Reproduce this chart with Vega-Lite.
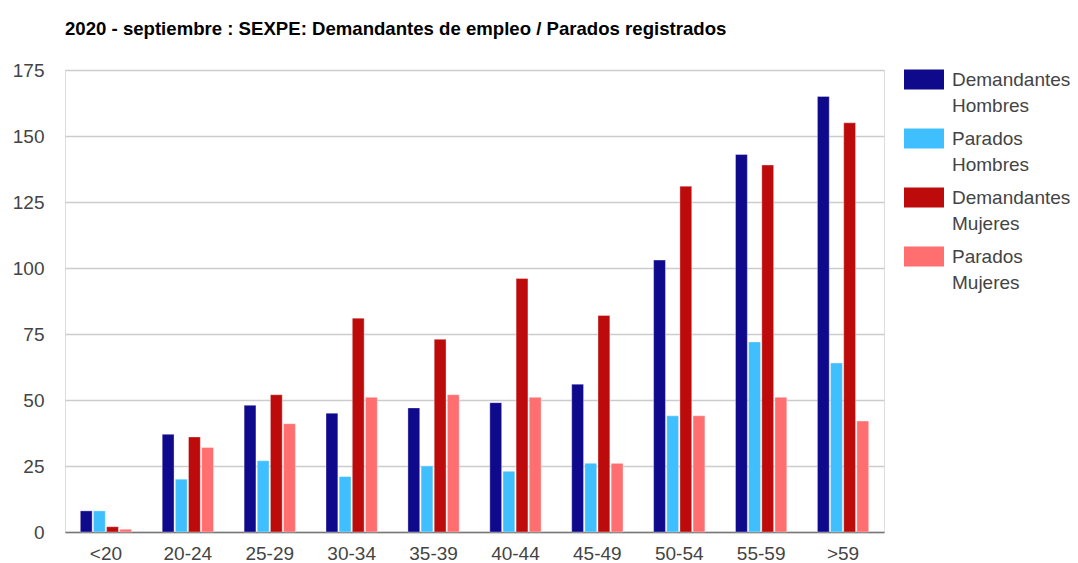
{
  "$schema": "https://vega.github.io/schema/vega-lite/v6.json",
  "width": 819,
  "height": 462,
  "autosize": {"type": "none"},
  "padding": {"left": 65, "top": 70, "right": 194, "bottom": 31},
  "background": "white",
  "title": {
    "text": "2020 - septiembre : SEXPE: Demandantes de empleo / Parados registrados",
    "anchor": "start",
    "frame": "group",
    "font": "Liberation Sans",
    "fontSize": 18.6,
    "fontWeight": "bold",
    "color": "#000000",
    "baseline": "alphabetic",
    "offset": 6
  },
  "data": {
    "values": [
      {"edad": "<20", "serie": "Demandantes Hombres", "valor": 8},
      {"edad": "<20", "serie": "Parados Hombres", "valor": 8},
      {"edad": "<20", "serie": "Demandantes Mujeres", "valor": 2},
      {"edad": "<20", "serie": "Parados Mujeres", "valor": 1},
      {"edad": "20-24", "serie": "Demandantes Hombres", "valor": 37},
      {"edad": "20-24", "serie": "Parados Hombres", "valor": 20},
      {"edad": "20-24", "serie": "Demandantes Mujeres", "valor": 36},
      {"edad": "20-24", "serie": "Parados Mujeres", "valor": 32},
      {"edad": "25-29", "serie": "Demandantes Hombres", "valor": 48},
      {"edad": "25-29", "serie": "Parados Hombres", "valor": 27},
      {"edad": "25-29", "serie": "Demandantes Mujeres", "valor": 52},
      {"edad": "25-29", "serie": "Parados Mujeres", "valor": 41},
      {"edad": "30-34", "serie": "Demandantes Hombres", "valor": 45},
      {"edad": "30-34", "serie": "Parados Hombres", "valor": 21},
      {"edad": "30-34", "serie": "Demandantes Mujeres", "valor": 81},
      {"edad": "30-34", "serie": "Parados Mujeres", "valor": 51},
      {"edad": "35-39", "serie": "Demandantes Hombres", "valor": 47},
      {"edad": "35-39", "serie": "Parados Hombres", "valor": 25},
      {"edad": "35-39", "serie": "Demandantes Mujeres", "valor": 73},
      {"edad": "35-39", "serie": "Parados Mujeres", "valor": 52},
      {"edad": "40-44", "serie": "Demandantes Hombres", "valor": 49},
      {"edad": "40-44", "serie": "Parados Hombres", "valor": 23},
      {"edad": "40-44", "serie": "Demandantes Mujeres", "valor": 96},
      {"edad": "40-44", "serie": "Parados Mujeres", "valor": 51},
      {"edad": "45-49", "serie": "Demandantes Hombres", "valor": 56},
      {"edad": "45-49", "serie": "Parados Hombres", "valor": 26},
      {"edad": "45-49", "serie": "Demandantes Mujeres", "valor": 82},
      {"edad": "45-49", "serie": "Parados Mujeres", "valor": 26},
      {"edad": "50-54", "serie": "Demandantes Hombres", "valor": 103},
      {"edad": "50-54", "serie": "Parados Hombres", "valor": 44},
      {"edad": "50-54", "serie": "Demandantes Mujeres", "valor": 131},
      {"edad": "50-54", "serie": "Parados Mujeres", "valor": 44},
      {"edad": "55-59", "serie": "Demandantes Hombres", "valor": 143},
      {"edad": "55-59", "serie": "Parados Hombres", "valor": 72},
      {"edad": "55-59", "serie": "Demandantes Mujeres", "valor": 139},
      {"edad": "55-59", "serie": "Parados Mujeres", "valor": 51},
      {"edad": ">59", "serie": "Demandantes Hombres", "valor": 165},
      {"edad": ">59", "serie": "Parados Hombres", "valor": 64},
      {"edad": ">59", "serie": "Demandantes Mujeres", "valor": 155},
      {"edad": ">59", "serie": "Parados Mujeres", "valor": 42}
    ]
  },
  "mark": {"type": "bar", "stroke": "white", "strokeOpacity": 0.35, "strokeWidth": 1},
  "encoding": {
    "x": {
      "field": "edad",
      "type": "nominal",
      "sort": ["<20", "20-24", "25-29", "30-34", "35-39", "40-44", "45-49", "50-54", "55-59", ">59"],
      "scale": {"paddingInner": 0.374, "paddingOuter": 0.187},
      "axis": {
        "title": null,
        "labelAngle": 0,
        "labelFont": "Liberation Sans",
        "labelFontSize": 19,
        "labelColor": "#444444",
        "labelBaseline": "alphabetic",
        "labelPadding": 27,
        "ticks": false,
        "grid": false,
        "domainColor": "#777777",
        "domainWidth": 1.5
      }
    },
    "xOffset": {
      "field": "serie",
      "sort": ["Demandantes Hombres", "Parados Hombres", "Demandantes Mujeres", "Parados Mujeres"],
      "scale": {"paddingInner": 0.1, "paddingOuter": 0}
    },
    "y": {
      "field": "valor",
      "type": "quantitative",
      "scale": {"domain": [0, 175], "nice": false},
      "axis": {
        "title": null,
        "values": [0, 25, 50, 75, 100, 125, 150, 175],
        "labelFont": "Liberation Sans",
        "labelFontSize": 19,
        "labelColor": "#444444",
        "labelPadding": 21,
        "ticks": false,
        "domain": false,
        "gridColor": "#cccccc",
        "gridWidth": 1.3
      }
    },
    "color": {
      "field": "serie",
      "type": "nominal",
      "sort": ["Demandantes Hombres", "Parados Hombres", "Demandantes Mujeres", "Parados Mujeres"],
      "scale": {
        "domain": ["Demandantes Hombres", "Parados Hombres", "Demandantes Mujeres", "Parados Mujeres"],
        "range": ["#0f0a8c", "#40bfff", "#bd0b0b", "#ff6f6f"]
      },
      "legend": {
        "title": null,
        "orient": "none",
        "legendX": 839,
        "legendY": -10.5,
        "padding": 0,
        "symbolType": "M-1,-0.5H1V0.5H-1Z",
        "symbolSize": 1600,
        "symbolStrokeWidth": 0,
        "symbolOpacity": 1,
        "labelFont": "Liberation Sans",
        "labelFontSize": 19,
        "labelColor": "#444444",
        "labelOffset": 8,
        "labelLimit": 200,
        "labelBaseline": "middle",
        "labelExpr": "split(datum.label, ' ')",
        "rowPadding": 3,
        "encode": {
          "labels": {
            "update": {
              "lineHeight": {"signal": "26"},
              "dy": {"value": 14}
            }
          }
        }
      }
    }
  },
  "config": {
    "style": {"guide-label": {"lineHeight": 26}}
  }
}
